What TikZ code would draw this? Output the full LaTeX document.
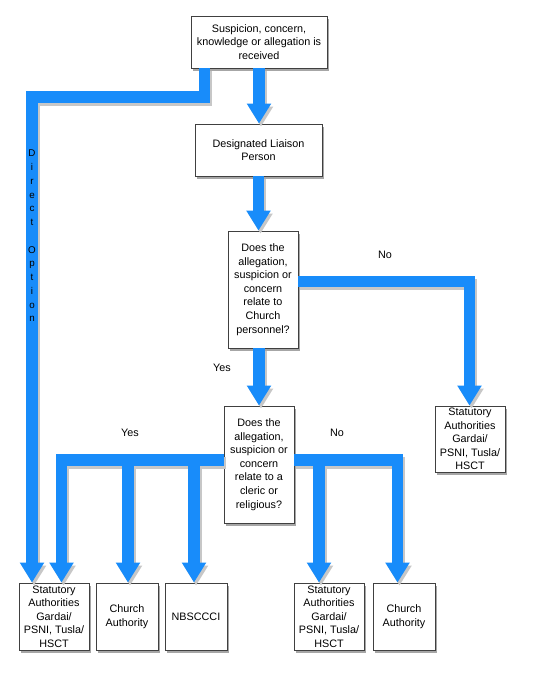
\documentclass[tikz,border=0pt]{standalone}
\usepackage{fontspec}
\setmainfont{Liberation Sans}
\usetikzlibrary{arrows.meta,shadows}
\definecolor{flowblue}{RGB}{24,140,250}
\newcommand\flowpaths{%
  % direct option
  \draw[flow] (top.south -| d1) -- (d1) -- (d2) -- (d2 |- box1.north);
  % top -> dlp
  \draw[flow] (top.south) -- (top.south |- dlp.north);
  % dlp -> dec1
  \draw[flow] (dlp.south) -- (dlp.south |- dec1.north);
  % dec1 -> statutory right (No)
  \draw[flow] (dec1.east |- n1) -- (n1) -- (n1 |- statR.north);
  % dec1 -> dec2 (Yes)
  \draw[flow] (dec1.south -| dec2.north) -- (dec2.north);
  % dec2 left (Yes)
  \draw[flow] (dec2.west |- l1) -- (l1) -- (l1 |- box1.north);
  \draw[flow] (l2) -- (l2 |- box2.north);
  \draw[flow] (l3) -- (l3 |- box3.north);
  % dec2 right (No)
  \draw[flow] (dec2.east |- r1) -- (r1) -- (r1 |- box5.north);
  \draw[flow] (r2) -- (r2 |- box4.north);
}
\begin{document}
\begin{tikzpicture}[x=1pt,y=-1pt,
  box/.style={draw=black!75, line width=0.8pt, fill=white, inner sep=0pt, align=center,
    font=\fontsize{10.8}{13.6}\selectfont,
    drop shadow={shadow xshift=2pt, shadow yshift=-3pt, opacity=0.35, fill=black}},
  flow/.style={line width=11.5pt, draw=flowblue, line join=miter,
    -{Triangle[width=23pt,length=20pt]}},
  lab/.style={font=\fontsize{10.8}{13}\selectfont, inner sep=0pt}]
\useasboundingbox (0,0) rectangle (560,673);
\fill[white] (0,0) rectangle (560,673);

% nodes
\node[box, minimum width=136pt, minimum height=52pt] (top) at (259,42)
  {Suspicion, concern,\\knowledge or allegation is\\received};
\node[box, minimum width=127pt, minimum height=52pt] (dlp) at (258.5,150)
  {Designated Liaison\\Person};
\node[box, minimum width=70pt, minimum height=117pt] (dec1) at (263,289.5)
  {Does the\\allegation,\\suspicion or\\concern\\relate to\\Church\\personnel?};
\node[box, minimum width=70pt, minimum height=117pt] (dec2) at (259,464.5)
  {Does the\\allegation,\\suspicion or\\concern\\relate to a\\cleric or\\religious?};
\node[box, minimum width=70pt, minimum height=66pt] (statR) at (470,439)
  {Statutory\\Authorities\\Gardai/\\PSNI, Tusla/\\HSCT};
\node[box, minimum width=70pt, minimum height=67pt] (box1) at (54,616.5)
  {Statutory\\Authorities\\Gardai/\\PSNI, Tusla/\\HSCT};
\node[box, minimum width=62pt, minimum height=67pt] (box2) at (127,616.5)
  {Church\\Authority};
\node[box, minimum width=62pt, minimum height=67pt] (box3) at (196,616.5)
  {NBSCCCI};
\node[box, minimum width=70pt, minimum height=67pt] (box4) at (329,616.5)
  {Statutory\\Authorities\\Gardai/\\PSNI, Tusla/\\HSCT};
\node[box, minimum width=62pt, minimum height=67pt] (box5) at (404,616.5)
  {Church\\Authority};

% bend coordinates
\coordinate (d1) at (204.5,97);
\coordinate (d2) at (32,97);
\coordinate (n1) at (469.5,281.5);
\coordinate (l1) at (61.5,460);
\coordinate (l2) at (128,460);
\coordinate (l3) at (194,460);
\coordinate (r1) at (397.5,460);
\coordinate (r2) at (319,460);

% connector shadows
\begin{scope}[transform canvas={shift={(2pt,-3pt)}},
  flow/.style={line width=11.5pt, draw=black!22, line join=miter,
    -{Triangle[width=23pt,length=20pt]}}]
  \flowpaths
\end{scope}
% connectors
\flowpaths

% labels
\node[lab] (no1) at (385,255) {No};
\node[lab] (yes1) at (222,368) {Yes};
\node[lab] (yes2) at (130,433) {Yes};
\node[lab] (no2) at (337,433) {No};
\node[align=center, inner sep=0pt, font=\fontsize{9.8}{13.75}\selectfont] (direct) at (32,236)
  {D\\i\\r\\e\\c\\t\\~\\O\\p\\t\\i\\o\\n};
\end{tikzpicture}
\end{document}
